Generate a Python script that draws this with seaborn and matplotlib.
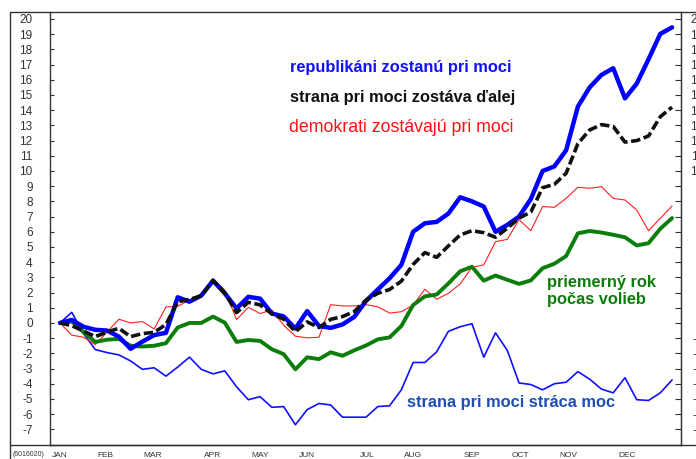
import numpy as np
import pandas as pd
import matplotlib
matplotlib.use("Agg")
import matplotlib.pyplot as plt
from matplotlib.lines import Line2D
import seaborn as sns

# weekly values, week 0 = start of January
weeks = list(range(53))

republikani = [0, 0.2, -0.25, -0.45, -0.5, -0.9, -1.7, -1.23, -0.8, -0.65,
               1.69, 1.4, 1.8, 2.78, 1.95, 0.95, 1.72, 1.6, 0.62, 0.43,
               -0.37, 0.78, -0.2, -0.32, -0.1, 0.4, 1.45, 2.2, 2.94, 3.82,
               6.0, 6.56, 6.65, 7.2, 8.27, 8.0, 7.66, 6.0, 6.45, 7.0,
               8.15, 10.0, 10.3, 11.36, 14.24, 15.5, 16.32, 16.76, 14.78, 15.75,
               17.35, 19.02, 19.45]

zostava = [0, -0.18, -0.53, -0.9, -0.6, -0.35, -0.9, -0.7, -0.62, -0.1,
           1.4, 1.55, 1.78, 2.8, 1.98, 0.68, 1.36, 1.19, 0.6, 0.25,
           -0.57, 0.07, -0.3, 0.24, 0.42, 0.75, 1.5, 1.95, 2.2, 2.75,
           3.85, 4.63, 4.32, 5.07, 5.79, 6.07, 5.94, 5.64, 6.23, 6.9,
           7.3, 8.9, 9.12, 9.85, 11.8, 12.7, 13.05, 12.93, 11.9, 12.0,
           12.3, 13.57, 14.2]

demokrati = [0, -0.8, -0.94, -1.42, -0.6, 0.25, 0.0, 0.09, -0.39, 1.05,
             1.1, 1.5, 1.7, 2.92, 2.15, 0.22, 1.03, 0.62, 0.85, -0.15,
             -0.87, -0.98, -0.94, 1.2, 1.12, 1.12, 1.2, 1.07, 0.65, 0.74,
             1.18, 2.22, 1.56, 1.95, 2.57, 3.66, 3.82, 5.35, 5.5, 6.8,
             6.07, 7.66, 7.61, 8.2, 8.93, 8.86, 8.97, 8.2, 8.09, 7.43,
             6.07, 6.89, 7.7]

priemerny = [0, 0.1, -0.6, -1.25, -1.1, -1.05, -1.5, -1.55, -1.5, -1.33,
             -0.3, 0, 0, 0.42, 0.02, -1.25, -1.12, -1.18, -1.73, -2.05,
             -3.05, -2.26, -2.38, -1.93, -2.16, -1.8, -1.48, -1.08, -0.95, -0.2,
             1.18, 1.75, 1.87, 2.6, 3.4, 3.7, 2.78, 3.12, 2.84, 2.57,
             2.8, 3.6, 3.9, 4.4, 5.9, 6.05, 5.95, 5.8, 5.64, 5.1,
             5.25, 6.2, 6.9]

straca = [0, 0.7, -0.7, -1.75, -1.95, -2.1, -2.5, -3.05, -2.95, -3.5,
          -2.9, -2.25, -3.05, -3.35, -3.15, -4.2, -5.05, -4.85, -5.55, -5.5,
          -6.7, -5.7, -5.3, -5.4, -6.2, -6.2, -6.2, -5.5, -5.45, -4.4,
          -2.6, -2.6, -1.9, -0.55, -0.25, -0.05, -2.25, -0.65, -1.8, -3.95,
          -4.05, -4.4, -4.0, -3.9, -3.2, -3.7, -4.35, -4.6, -3.6, -5.05,
          -5.1, -4.6, -3.75]

months = ['JAN', 'FEB', 'MAR', 'APR', 'MAY', 'JUN', 'JUL', 'AUG', 'SEP', 'OCT', 'NOV', 'DEC']
month_pos = [0, 3.9, 7.9, 13.0, 17.0, 21.0, 26.1, 30.0, 35.0, 39.1, 43.2, 48.2]
yticks = list(range(-7, 21))

sns.set_style("white")
plt.rcParams['font.family'] = ['Liberation Sans', 'DejaVu Sans']

fig = plt.figure(figsize=(6.96, 4.59), dpi=100)
ax = fig.add_axes([50/696, 14/459, 631/696, 433/459])

sns.lineplot(x=weeks, y=straca, ax=ax, color='#1010ff', lw=1.2)
sns.lineplot(x=weeks, y=demokrati, ax=ax, color='#ff2020', lw=0.8)
sns.lineplot(x=weeks, y=priemerny, ax=ax, color='#0a7d0a', lw=2.8)
sns.lineplot(x=weeks, y=republikani, ax=ax, color='#0000ff', lw=3.2)
sns.lineplot(x=weeks, y=zostava, ax=ax, color='#111111', lw=2.6, dashes=False,
             linestyle=(0, (2.6, 1.0)))

ax.set_xlim(-0.85, 52.76)
ax.set_ylim(-8.03, 20.46)
ax.set_yticks(yticks)
ax.set_yticklabels([str(v) for v in yticks], fontsize=8.5, color='#333333')
ax.tick_params(axis='y', direction='in', length=3, width=0.8, pad=12.5, color='#333333')
ax.set_xticks(month_pos)
ax.set_xticklabels(months, fontsize=6, color='#333333')
ax.tick_params(axis='x', direction='out', length=4, width=0.8, pad=1, color='#333333')
for s in ax.spines.values():
    s.set_color('#333333')
    s.set_linewidth(1.0)
ax.spines['top'].set_visible(False)

ax2 = ax.twinx()
ax2.set_ylim(ax.get_ylim())
ax2.set_yticks(yticks)
ax2.set_yticklabels([str(v) for v in yticks], fontsize=8.5, color='#333333')
ax2.tick_params(axis='y', direction='in', length=4, width=0.8, pad=16, color='#333333')
for lab in ax2.get_yticklabels():
    lab.set_horizontalalignment('right')
for s in ax2.spines.values():
    s.set_visible(False)
ax2.spines['right'].set_visible(True)
ax2.spines['right'].set_color('#333333')

ax.set_xlabel('')
ax.set_ylabel('')

# labels
ax.text(19.5, 16.8, 'republikáni zostanú pri moci', color='#1010ff', fontsize=11.8,
        fontweight='bold', va='center', ha='left')
ax.text(19.5, 14.85, 'strana pri moci zostáva ďalej', color='#111111', fontsize=11.8,
        fontweight='bold', va='center', ha='left')
ax.text(19.45, 12.85, 'demokrati zostávajú pri moci', color='#ff1010', fontsize=12.8,
        va='center', ha='left')
ax.text(41.4, 2.1, 'priemerný rok\npočas volieb', color='#0a7d0a', fontsize=11.8,
        fontweight='bold', va='center', ha='left', linespacing=1.2)
ax.text(29.5, -5.26, 'strana pri moci stráca moc', color='#1e4fb4', fontsize=11.8,
        fontweight='bold', va='center', ha='left')

# outer frame lines
fig.add_artist(Line2D([10/696, 10/696], [0, 447/459], color='#333333', lw=1.0))
fig.add_artist(Line2D([10/696, 1], [447/459, 447/459], color='#333333', lw=1.0))
fig.add_artist(Line2D([10/696, 1], [14/459, 14/459], color='#333333', lw=1.0))
fig.text(13/696, 3/459, '(6016020)', fontsize=5, color='#333333')

fig.savefig('out.png', dpi=100)
